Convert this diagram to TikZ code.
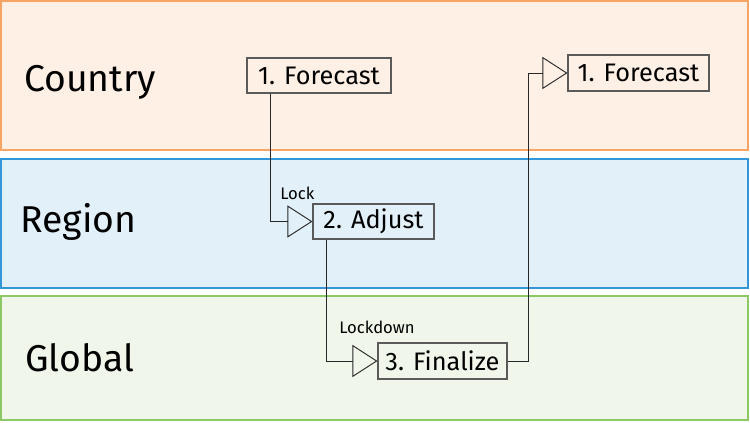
\documentclass[tikz,border=0pt]{standalone}
\usepackage{fontspec}
\setmainfont{Fira Sans}
\usetikzlibrary{arrows.meta,calc}
\definecolor{cfill}{RGB}{255,240,230}
\definecolor{cline}{RGB}{247,165,100}
\definecolor{rfill}{RGB}{226,240,249}
\definecolor{rline}{RGB}{50,150,215}
\definecolor{gfill}{RGB}{240,247,234}
\definecolor{gline}{RGB}{140,200,100}
\definecolor{ink}{RGB}{40,40,40}
\definecolor{boxline}{RGB}{90,90,90}
\tikzset{
  lane/.style={line width=0.9pt},
  lanelabel/.style={anchor=west, font=\fontsize{28}{30}\selectfont, text=black, inner sep=0pt},
  stepbox/.style={draw=boxline, line width=0.8pt, inner sep=0pt, font=\fontsize{19}{21}\selectfont},
  conn/.style={draw=ink, line width=0.7pt, -{Triangle[open, length=18.75pt, width=24pt, line width=0.7pt]}},
  small/.style={font=\fontsize{12.5}{14}\selectfont, inner sep=0pt}
}
\begin{document}
\begin{tikzpicture}[x=0.75pt,y=-0.75pt]
\useasboundingbox (0,0) rectangle (750,422);
\fill[white] (0,0) rectangle (750,422);
% lanes
\draw[lane, draw=cline, fill=cfill] (1,1) rectangle (748,150);
\draw[lane, draw=rline, fill=rfill] (1,159) rectangle (748,288);
\draw[lane, draw=gline, fill=gfill] (1,296) rectangle (748,420);
\node[lanelabel] (lc) at (24,82) {Country};
\node[lanelabel] (lr) at (20,222) {Region};
\node[lanelabel] (lg) at (25,358) {Global};
% steps
\node[stepbox, fill=cfill, minimum width=108pt, minimum height=26.25pt] (f1) at (319,75.5) {1. Forecast};
\node[stepbox, fill=rfill, minimum width=90.75pt, minimum height=26.25pt] (ad) at (373.5,221.5) {2. Adjust};
\node[stepbox, fill=gfill, minimum width=96.75pt, minimum height=27pt] (fi) at (442.5,361) {3. Finalize};
\node[stepbox, fill=cfill, minimum width=105.75pt, minimum height=27pt] (f2) at (638.5,73) {1. Forecast};
% connectors
\coordinate (s1) at ($(f1.south west)+(23.7,0)$);
\coordinate (s2) at ($(ad.south west)+(13.7,0)$);
\coordinate (k3) at ($(fi.east)+(20.7,0)$);
\draw[conn] (s1) |- (ad.west);
\draw[conn] (s2) |- (fi.west);
\draw[conn] (fi.east) -- (k3) |- (f2.west);
% labels
\node[small, anchor=south west] (lk) at (280,200) {Lock};
\node[small, anchor=south west] (lkd) at (339,334) {Lockdown};
\end{tikzpicture}
\end{document}
